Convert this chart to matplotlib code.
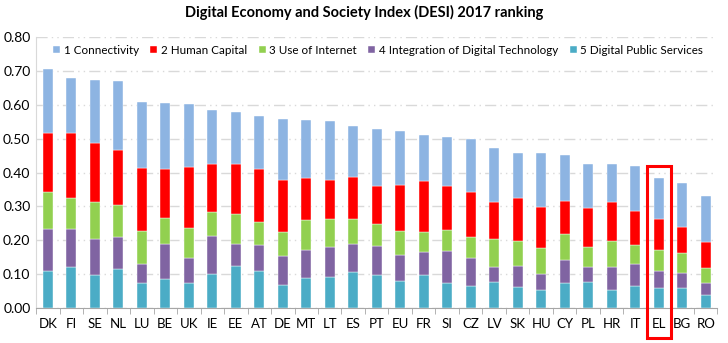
import numpy as np
import matplotlib.pyplot as plt
from matplotlib.patches import Rectangle

plt.rcParams['font.family'] = ['Lato', 'DejaVu Sans']

countries = ['DK', 'FI', 'SE', 'NL', 'LU', 'BE', 'UK', 'IE', 'EE', 'AT', 'DE', 'MT', 'LT', 'ES', 'PT',
             'EU', 'FR', 'SI', 'CZ', 'LV', 'SK', 'HU', 'CY', 'PL', 'HR', 'IT', 'EL', 'BG', 'RO']

# segment values
public_services = [0.109, 0.122, 0.097, 0.114, 0.073, 0.085, 0.075, 0.101, 0.125, 0.109, 0.068, 0.090, 0.092, 0.107, 0.096,
                   0.081, 0.096, 0.075, 0.065, 0.076, 0.063, 0.053, 0.075, 0.077, 0.053, 0.066, 0.060, 0.059, 0.038]
integration = [0.125, 0.111, 0.107, 0.096, 0.058, 0.104, 0.072, 0.112, 0.063, 0.078, 0.087, 0.081, 0.088, 0.083, 0.086,
               0.075, 0.070, 0.092, 0.082, 0.046, 0.061, 0.046, 0.068, 0.044, 0.069, 0.065, 0.049, 0.044, 0.037]
use_internet = [0.109, 0.092, 0.108, 0.093, 0.096, 0.078, 0.090, 0.070, 0.090, 0.067, 0.070, 0.088, 0.084, 0.072, 0.066,
                0.070, 0.059, 0.062, 0.063, 0.081, 0.073, 0.077, 0.076, 0.060, 0.075, 0.055, 0.063, 0.058, 0.044]
human_capital = [0.173, 0.193, 0.174, 0.164, 0.185, 0.143, 0.179, 0.141, 0.146, 0.156, 0.153, 0.125, 0.114, 0.125, 0.112,
                 0.138, 0.149, 0.132, 0.133, 0.110, 0.127, 0.123, 0.097, 0.113, 0.115, 0.099, 0.092, 0.078, 0.077]
connectivity = [0.189, 0.160, 0.187, 0.203, 0.195, 0.194, 0.186, 0.161, 0.154, 0.158, 0.179, 0.170, 0.175, 0.150, 0.168,
                0.158, 0.138, 0.143, 0.156, 0.160, 0.134, 0.159, 0.136, 0.131, 0.113, 0.135, 0.119, 0.131, 0.135]

series = [('1 Connectivity', connectivity, '#8DB4E2'),
          ('2 Human Capital', human_capital, '#FF0000'),
          ('3 Use of Internet', use_internet, '#92D050'),
          ('4 Integration of Digital Technology', integration, '#8064A2'),
          ('5 Digital Public Services', public_services, '#4BACC6')]

fig = plt.figure(figsize=(7.28, 3.43), dpi=100)
ax = fig.add_axes([0.0495, 0.102, 0.936, 0.79])

x = np.arange(len(countries))
bottoms = np.zeros(len(countries))
handles = {}
# stack from the bottom: 5 -> 1
for name, vals, col in series[::-1]:
    b = ax.bar(x, vals, 0.44, bottom=bottoms, color=col, edgecolor='white', linewidth=0.3, zorder=3)
    handles[name] = b
    bottoms += np.array(vals)

ax.set_xlim(-0.5, len(countries) - 0.5)
ax.set_ylim(0, 0.8)
ax.set_yticks(np.arange(0, 0.81, 0.1))
ax.set_yticklabels(['%.2f' % v for v in np.arange(0, 0.81, 0.1)], fontsize=10)
ax.set_xticks(x)
ax.set_xticklabels(countries, fontsize=9.5)
ax.set_xticks(np.arange(-0.5, len(countries), 1), minor=True)
ax.tick_params(axis='x', which='major', length=0, pad=7)
ax.tick_params(axis='x', which='minor', length=4, color='#A6A6A6')
ax.tick_params(axis='y', length=0, pad=4)

ax.grid(axis='y', color='#D9D9D9', linewidth=1.0, linestyle=(0, (8, 3, 1, 3, 1, 3)), zorder=0)
for s in ['top', 'right']:
    ax.spines[s].set_visible(False)
ax.spines['left'].set_color('#D9D9D9')
ax.spines['bottom'].set_color('#A6A6A6')

ax.legend([handles[s[0]] for s in series], [s[0] for s in series], ncol=5, loc='upper center',
          bbox_to_anchor=(0.502, 1.01), frameon=False, fontsize=8.4, handlelength=0.6, handleheight=0.6,
          handletextpad=0.3, columnspacing=1.0)

# highlight box around Greece
el = countries.index('EL')
ax.add_patch(Rectangle((el - 0.51, -0.088), 1.02, 0.506, fill=False, edgecolor='#FF0000',
                       linewidth=2.2, clip_on=False, zorder=5))

fig.suptitle('Digital Economy and Society Index (DESI) 2017 ranking', fontsize=10.5, fontweight='bold', y=0.985)

fig.savefig('out.png', dpi=100)
